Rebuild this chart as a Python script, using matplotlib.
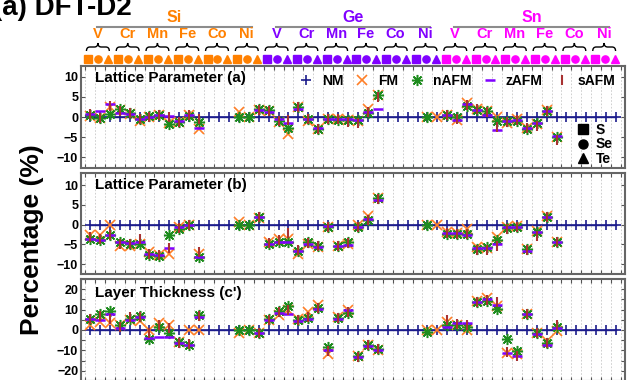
import numpy as np
import matplotlib
matplotlib.use("Agg")
import matplotlib.pyplot as plt
import matplotlib.transforms as mtransforms
from matplotlib.lines import Line2D
from matplotlib.path import Path
from matplotlib.patches import PathPatch

plt.rcParams['font.family'] = ['Liberation Sans', 'DejaVu Sans']
plt.rcParams['font.weight'] = 'bold'

nan = np.nan

elements = ["Si", "Ge", "Sn"]
element_colors = ["#ff8000", "#8000ff", "#ff00ff"]
metals = ["V", "Cr", "Mn", "Fe", "Co", "Ni"]
chalcogens = ["S", "Se", "Te"]
chalcogen_markers = ["s", "o", "^"]

# NM is the reference state (0 %), one value per compound
nm = [0, 0, 0, 0, 0, 0, 0, 0, 0, 0, 0, 0, 0, 0, 0, 0, 0, 0,
      0, 0, 0, 0, 0, 0, 0, 0, 0, 0, 0, 0, 0, 0, 0, 0, 0, 0,
      0, 0, 0, 0, 0, 0, 0, 0, 0, 0, 0, 0, 0, 0, 0, 0, 0, 0]

# Lattice parameter (a), % change
a_fm = [0.3, -0.3, 2.6, 1.8, 0.7, -0.9, 0.0, 0.4, -1.5, -1.2, 0.6, -3.1, nan, nan, nan, 1.2, 0.1, 1.8,
        1.6, -1.3, -4.3, 2.6, -1.0, -3.0, -0.6, -0.4, -0.7, -1.1, 1.9, 5.5, nan, nan, nan, nan, 0.0, 0.0,
        0.5, -0.7, 3.4, 2.1, 1.6, 0.0, -1.5, -0.6, -2.7, -1.8, 1.8, -4.9, nan, nan, nan, nan, nan, nan]
a_nafm = [0.6, -0.3, 0.7, 2.0, 1.0, -0.4, 0.2, 0.4, -1.8, -1.2, 0.2, -1.3, nan, nan, nan, 0.1, 0.0, 2.0,
          1.8, -0.9, -2.7, 2.5, -0.4, -3.0, -0.4, -0.7, -0.7, -0.7, 1.0, 5.5, nan, nan, nan, nan, 0.0, nan,
          0.6, -0.1, 2.7, 1.8, 1.4, -1.1, -1.1, -0.9, -2.9, -1.6, 1.5, -5.0, nan, nan, nan, nan, nan, nan]
a_zafm = [0.8, 1.6, 3.3, 1.0, 0.8, -0.6, 0.1, 0.5, 0.2, -1.1, 0.4, -2.7, nan, nan, nan, nan, nan, 1.8,
          1.2, -0.6, -1.5, 2.0, -0.4, -2.7, -0.4, -0.5, -0.5, -0.8, 1.3, 2.1, nan, nan, nan, nan, nan, nan,
          0.6, -0.8, 3.3, 1.8, 0.6, -3.3, -1.1, -0.7, -2.7, -1.4, 1.5, -4.8, nan, nan, nan, nan, nan, nan]
a_safm = [0.7, -0.3, 2.8, 1.4, 1.0, -0.6, 0.1, 0.4, 0.0, -1.2, 0.6, -0.4, nan, nan, nan, nan, nan, 1.8,
          1.6, -1.0, -0.8, 2.5, -0.6, -3.0, -0.4, -0.6, -1.2, -1.4, 1.2, 5.0, nan, nan, nan, nan, nan, nan,
          0.5, -0.6, 3.0, 1.9, 1.2, -2.5, -1.2, -0.8, -2.8, -2.2, 1.5, -5.8, nan, nan, nan, nan, nan, nan]

# Lattice parameter (b), % change
b_fm = [-2.7, -2.6, 0.0, -5.3, -5.3, -5.0, -7.0, -7.7, -7.4, -0.6, 0.0, -7.4, nan, nan, nan, 0.7, 0.0, 1.8,
        -4.4, -3.6, -3.6, -7.4, -4.8, -5.6, -0.6, -5.3, -4.8, -0.2, 2.2, 6.7, nan, nan, nan, nan, 0.0, 0.0,
        -1.9, -2.1, -1.0, -5.7, -6.0, -3.2, -0.6, -0.4, -6.2, -1.5, 2.2, -4.3, nan, nan, nan, nan, nan, nan]
b_nafm = [-3.6, -4.0, -2.7, -4.3, -4.9, -4.9, -7.6, -8.0, -2.7, -1.0, 0.0, -8.3, nan, nan, nan, 0.0, 0.0, 2.0,
          -4.9, -4.3, -4.4, -6.6, -4.4, -5.5, -0.6, -5.3, -4.4, -0.6, 1.1, 6.7, nan, nan, nan, nan, 0.0, nan,
          -2.3, -2.3, -2.3, -6.2, -5.7, -3.8, -0.9, -0.6, -6.2, -1.9, 2.0, -4.4, nan, nan, nan, nan, nan, nan]
b_zafm = [-3.6, -4.0, -2.6, -4.5, -4.7, -4.5, -7.4, -7.7, -5.9, -0.6, 0.0, -8.3, nan, nan, nan, nan, nan, 2.0,
          -4.9, -4.4, -4.5, -6.6, -4.8, -5.6, -0.4, -5.3, -5.1, -0.5, 1.5, 6.3, nan, nan, nan, nan, nan, nan,
          -2.1, -2.2, -2.7, -5.9, -6.0, -4.9, -0.6, -0.6, -6.6, -1.9, 2.0, -4.4, nan, nan, nan, nan, nan, nan]
b_safm = [-3.2, -3.6, -2.7, -4.8, -4.9, -3.6, -7.4, -7.8, -6.0, -0.8, 0.0, -7.0, nan, nan, nan, nan, nan, 2.0,
          -4.6, -4.0, -2.0, -6.5, -4.6, -5.5, -0.5, -5.3, -4.6, -0.6, 1.3, 6.5, nan, nan, nan, nan, nan, nan,
          -2.2, -2.3, -2.3, -6.5, -6.5, -5.3, -1.0, -0.6, -6.3, -2.8, 1.9, -4.5, nan, nan, nan, nan, nan, nan]

# Layer thickness (c'), % change
c_fm = [2.4, 4.0, 3.2, 2.4, 4.8, 4.3, 0.0, 3.2, 2.4, -6.1, 0.0, 0.0, nan, nan, nan, -1.6, 0.0, -1.6,
        4.8, 7.2, 9.6, 5.6, 8.8, 12.3, -12.0, 6.4, 9.6, -12.8, -7.2, -9.6, nan, nan, nan, nan, 0.0, 0.0,
        4.0, 2.4, 0.0, 14.4, 15.5, 12.0, -11.2, -12.0, 8.0, -1.6, -5.6, -0.5, nan, nan, nan, nan, nan, nan]
c_nafm = [5.6, 8.0, 9.1, 2.4, 5.6, 6.7, -4.3, 1.6, -1.6, -6.1, -7.2, 7.2, nan, nan, nan, 0.0, 0.0, -1.6,
          5.3, 9.1, 12.0, 4.8, 5.9, 10.7, -8.5, 5.9, 8.5, -12.8, -7.2, -9.1, nan, nan, nan, nan, -0.8, nan,
          2.4, 2.4, 1.6, 13.9, 14.4, 10.1, -4.3, -10.4, 8.0, -1.6, -6.4, 1.6, nan, nan, nan, nan, nan, nan]
c_zafm = [5.3, 4.8, 8.0, 0.8, 4.8, 6.2, -3.7, -3.2, -3.2, -6.4, -7.2, 6.4, nan, nan, nan, nan, nan, -1.6,
          4.8, 8.5, 8.0, 4.3, 5.6, 10.4, -10.0, 5.3, 9.6, -13.2, -8.0, -9.6, nan, nan, nan, nan, nan, nan,
          1.6, 3.2, 3.2, 13.6, 15.0, 12.3, -11.2, -12.8, 8.0, -2.1, -7.2, 0.8, nan, nan, nan, nan, nan, nan]
c_safm = [5.3, 7.0, 5.6, 1.6, 6.4, 6.5, -1.6, 2.4, 0.8, -6.4, -7.0, 7.0, nan, nan, nan, nan, nan, -1.6,
          5.0, 8.8, 9.6, 4.8, 6.4, 10.9, -10.4, 6.1, 8.8, -13.0, -7.5, -9.3, nan, nan, nan, nan, nan, nan,
          4.8, 2.8, 2.4, 13.9, 14.8, 13.6, -11.0, -12.8, 8.0, -1.6, -6.4, 2.4, nan, nan, nan, nan, nan, nan]

panel_titles = ["Lattice Parameter (a)", "Lattice Parameter (b)", "Layer Thickness (c')"]
panel_data = [(a_fm, a_nafm, a_zafm, a_safm), (b_fm, b_nafm, b_zafm, b_safm), (c_fm, c_nafm, c_zafm, c_safm)]
panel_ylims = [(-12.7, 12.7), (-12.5, 13.1), (-24.5, 24.8)]
panel_yticks = [[-10, -5, 0, 5, 10], [-10, -5, 0, 5, 10], [-20, -10, 0, 10, 20]]

state_names = ["NM", "FM", "nAFM", "zAFM", "sAFM"]
state_styles = [
	dict(marker="+", color="#1c1c8c", ms=7, mew=1.2),
	dict(marker="x", color="#ff7f27", ms=7.5, mew=1.2),
	dict(marker=(8, 2, 0), color="#1e8c1e", ms=8, mew=1.1),
	dict(marker="_", color="#8000ff", ms=7, mew=1.8),
	dict(marker="|", color="#a83232", ms=7, mew=1.5),
]

x = np.arange(len(nm))

fig = plt.figure(figsize=(6.31, 3.80), dpi=100)
W, H = 631.0, 380.0
panel_boxes = [(66, 168), (173, 274), (279, 381)]  # top / bottom in pixels
axes = []
for top, bottom in panel_boxes:
	ax = fig.add_axes([81 / W, 1 - bottom / H, 544 / W, (bottom - top) / H])
	axes.append(ax)

for ax, title, data, ylim, yticks in zip(axes, panel_titles, panel_data, panel_ylims, panel_yticks):
	ax.plot(x, nm, linestyle="-", linewidth=1.0, zorder=3, **state_styles[0])
	for values, style in zip(data, state_styles[1:]):
		ax.plot(x, values, linestyle="none", zorder=4, **style)
	ax.set_xlim(-0.9, 53.9)
	ax.set_ylim(*ylim)
	ax.set_yticks(yticks)
	ax.set_yticks(np.arange(yticks[0] - 5, yticks[-1] + 6, 5) if ylim[1] > 20 else [], minor=True)
	ax.set_xticks(np.arange(-0.5, 54, 1.0))
	ax.set_xticklabels([])
	ax.grid(True, axis="x", color="#c8c8c8", linestyle=(0, (2, 2)), linewidth=0.6, zorder=0)
	ax.tick_params(axis="both", which="both", direction="in", top=True, right=True, length=3, width=0.8, color="#555555")
	ax.tick_params(axis="y", labelsize=9, pad=2)
	for lab in ax.get_yticklabels():
		lab.set_fontweight("bold")
	for spine in ax.spines.values():
		spine.set_color("#666666")
		spine.set_linewidth(1.5)
	ax.text(0.026, 0.885 if "Thick" not in title else 0.86, title, transform=ax.transAxes,
			fontsize=11, fontweight="bold", va="center", ha="left", zorder=6)

# state legend in the top panel
state_handles = [Line2D([], [], linestyle="none", **s) for s in state_styles]
leg = axes[0].legend(state_handles, state_names, ncol=5, loc="upper right", bbox_to_anchor=(1.0, 1.02),
					 frameon=False, handlelength=1.0, handletextpad=0.65, columnspacing=0.85,
					 prop={"weight": "bold", "size": 10}, borderaxespad=0.3)
axes[0].add_artist(leg)

# chalcogen symbol key
chalc_handles = [Line2D([], [], linestyle="none", marker=m, color="black", ms=6.5) for m in chalcogen_markers]
axes[0].legend(chalc_handles, chalcogens, loc="lower right", bbox_to_anchor=(1.0, -0.1), frameon=False,
			   handlelength=0.8, handletextpad=0.5, labelspacing=0.02,
			   prop={"weight": "bold", "size": 10})

# header with element / metal / chalcogen labels above the top panel
hdr = mtransforms.blended_transform_factory(axes[0].transData, fig.transFigure)
shift = -0.2
for e, (elem, col) in enumerate(zip(elements, element_colors)):
	first = 18 * e
	fig.text(first + 8.5, 1 - 17 / H, elem, transform=hdr, color=col, fontsize=11.5,
			 fontweight="bold", ha="center", va="center")
	fig.add_artist(Line2D([first + 0.7, first + 16.3], [1 - 27 / H] * 2, transform=hdr,
						  color="#8c8c8c", linewidth=1.5))
	for m, metal in enumerate(metals):
		centre = first + 3 * m + 1 + shift
		fig.text(centre, 1 - 34 / H, metal, transform=hdr, color=col, fontsize=10.5,
				 fontweight="bold", ha="center", va="center")
		# overbrace
		x0, x1 = centre - 1.15, centre + 1.15
		yb, ym, yt = 1 - 51 / H, 1 - 47 / H, 1 - 43 / H
		q = 0.35
		verts = [(x0, yb), (x0, ym), (x0 + q, ym), (centre - q, ym), (centre, ym), (centre, yt),
				 (centre, ym), (centre + q, ym), (x1 - q, ym), (x1, ym), (x1, yb)]
		codes = [Path.MOVETO, Path.CURVE3, Path.CURVE3, Path.LINETO, Path.CURVE3, Path.CURVE3,
				 Path.CURVE3, Path.CURVE3, Path.LINETO, Path.CURVE3, Path.CURVE3]
		fig.add_artist(PathPatch(Path(verts, codes), transform=hdr, facecolor="none",
								 edgecolor="black", linewidth=1.0))
		for c, mk in enumerate(chalcogen_markers):
			idx = first + 3 * m + c
			fig.add_artist(Line2D([idx - 0.15], [1 - 59 / H], transform=hdr, marker=mk,
								  color=col, markersize=5.2, linestyle="none"))

fig.text(-7 / W, 1 - 15 / H, "(a) DFT-D2", fontsize=20, fontweight="bold", ha="left", va="baseline")
fig.text(32 / W, 1 - 240 / H, "Percentage (%)", fontsize=19, fontweight="bold", rotation=90,
		 ha="center", va="center")

fig.savefig("out.png", dpi=100)
